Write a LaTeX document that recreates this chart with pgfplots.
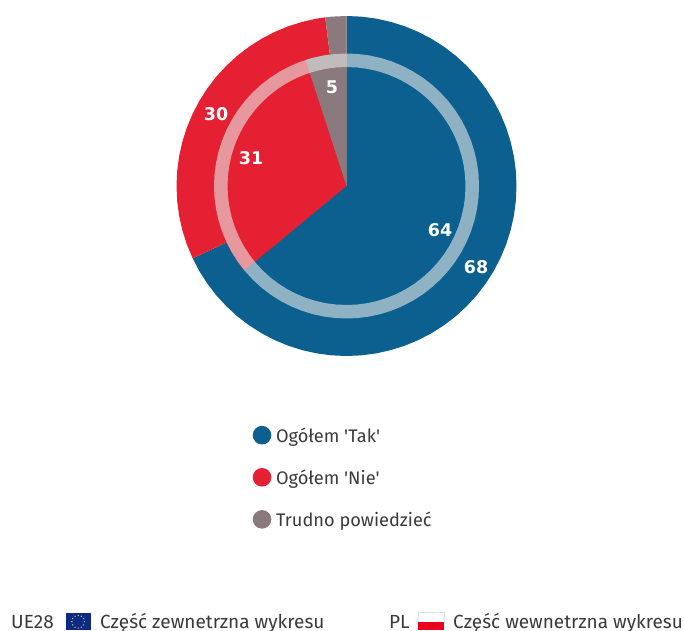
\documentclass[border=0pt]{standalone}
\usepackage{fontspec}
\newfontfamily\txtfont{Fira Sans}
\newfontfamily\labelfont{DejaVu Sans}
\usepackage{pgfplots}
\pgfplotsset{compat=1.18}
\usepgfplotslibrary{polar}

\definecolor{tak}{HTML}{0B6090}
\definecolor{nie}{HTML}{E62033}
\definecolor{trudno}{HTML}{8A797D}
\definecolor{txt}{HTML}{3A3A3A}
\definecolor{pasek}{HTML}{E9E9E9}
\definecolor{euflag}{HTML}{0C2A86}
\definecolor{euzolty}{HTML}{E8D44A}
\definecolor{plred}{HTML}{E8001C}

\newcommand{\val}[3]{\node[text=white,font=\labelfont\bfseries\fontsize{17.5}{20}\selectfont] at (axis cs:#1,#2) {#3};}
\newcommand{\stopka}[3]{\node[anchor=base west,inner sep=0pt,text=txt,font=\txtfont\fontsize{19}{22}\selectfont] at (axis cs:#1,#2) {#3};}

\begin{document}
\begin{tikzpicture}
\path[use as bounding box] (0,0) rectangle (684pt,630pt);
% 1 unit = 1 px of the reference, origin at the centre of the pie
\begin{axis}[
    scale only axis,
    width=684pt, height=630pt,
    xmin=-346.5, xmax=337.5,
    ymin=-444, ymax=186,
    hide axis,
    clip=false,
    data cs=polar,
    legend image code/.code={\fill[#1] (0pt,0pt) circle (9.3pt); \path (14pt,0pt);},
    legend cell align=left,
    legend style={draw=none, fill=none, at={(0.3695,0.324)}, anchor=north west,
        inner sep=0pt, outer sep=0pt, row sep=23.5pt,
        font=\txtfont\fontsize{18.2}{20}\selectfont, text=txt,
        nodes={inner sep=0pt, text depth=0pt}},
]
% outer ring, UE28: 68 / 30 / 2
\addplot[fill=tak, draw=none] coordinates {
    (0,0) (90,170) (85,170) (80,170) (75,170) (70,170) (65,170) (60,170) (55,170) (50,170) (45,170)
    (40,170) (35,170) (30,170) (25,170) (20,170) (15,170) (10,170) (5,170) (0,170)
    (-5,170) (-10,170) (-15,170) (-20,170) (-25,170) (-30,170) (-35,170) (-40,170) (-45,170)
    (-50,170) (-55,170) (-60,170) (-65,170) (-70,170) (-75,170) (-80,170) (-85,170) (-90,170)
    (-95,170) (-100,170) (-105,170) (-110,170) (-115,170) (-120,170) (-125,170) (-130,170) (-135,170)
    (-140,170) (-145,170) (-150,170) (-154.8,170) (0,0)
};
\addlegendentry{Ogółem 'Tak'}
\addplot[fill=nie, draw=none] coordinates {
    (0,0) (205.2,170) (200,170) (195,170) (190,170) (185,170) (180,170) (175,170) (170,170) (165,170)
    (160,170) (155,170) (150,170) (145,170) (140,170) (135,170) (130,170) (125,170) (120,170) (115,170)
    (110,170) (105,170) (100,170) (97.2,170) (0,0)
};
\addlegendentry{Ogółem 'Nie'}
\addplot[fill=trudno, draw=none] coordinates {
    (0,0) (97.2,170) (95,170) (90,170) (0,0)
};
\addlegendentry{Trudno powiedzieć}
% inner pie, PL: 64 / 31 / 5
\addplot[forget plot, fill=tak, draw=none] coordinates {
    (0,0) (90,132.5) (85,132.5) (80,132.5) (75,132.5) (70,132.5) (65,132.5) (60,132.5) (55,132.5) (50,132.5) (45,132.5)
    (40,132.5) (35,132.5) (30,132.5) (25,132.5) (20,132.5) (15,132.5) (10,132.5) (5,132.5) (0,132.5)
    (-5,132.5) (-10,132.5) (-15,132.5) (-20,132.5) (-25,132.5) (-30,132.5) (-35,132.5) (-40,132.5) (-45,132.5)
    (-50,132.5) (-55,132.5) (-60,132.5) (-65,132.5) (-70,132.5) (-75,132.5) (-80,132.5) (-85,132.5) (-90,132.5)
    (-95,132.5) (-100,132.5) (-105,132.5) (-110,132.5) (-115,132.5) (-120,132.5) (-125,132.5) (-130,132.5) (-135,132.5)
    (-140.4,132.5) (0,0)
};
\addplot[forget plot, fill=nie, draw=none] coordinates {
    (0,0) (219.6,132.5) (215,132.5) (210,132.5) (205,132.5) (200,132.5) (195,132.5) (190,132.5) (185,132.5) (180,132.5)
    (175,132.5) (170,132.5) (165,132.5) (160,132.5) (155,132.5) (150,132.5) (145,132.5) (140,132.5) (135,132.5)
    (130,132.5) (125,132.5) (120,132.5) (115,132.5) (110,132.5) (108,132.5) (0,0)
};
\addplot[forget plot, fill=trudno, draw=none] coordinates {
    (0,0) (108,132.5) (105,132.5) (100,132.5) (95,132.5) (90,132.5) (0,0)
};
% pale band over the edge of the inner pie
\addplot[forget plot, draw=pasek, opacity=0.594, line width=13.5pt] coordinates {
    (0,125.75) (5,125.75) (10,125.75) (15,125.75) (20,125.75) (25,125.75) (30,125.75) (35,125.75) (40,125.75) (45,125.75)
    (50,125.75) (55,125.75) (60,125.75) (65,125.75) (70,125.75) (75,125.75) (80,125.75) (85,125.75) (90,125.75)
    (95,125.75) (100,125.75) (105,125.75) (110,125.75) (115,125.75) (120,125.75) (125,125.75) (130,125.75) (135,125.75)
    (140,125.75) (145,125.75) (150,125.75) (155,125.75) (160,125.75) (165,125.75) (170,125.75) (175,125.75) (180,125.75)
    (185,125.75) (190,125.75) (195,125.75) (200,125.75) (205,125.75) (210,125.75) (215,125.75) (220,125.75) (225,125.75)
    (230,125.75) (235,125.75) (240,125.75) (245,125.75) (250,125.75) (255,125.75) (260,125.75) (265,125.75) (270,125.75)
    (275,125.75) (280,125.75) (285,125.75) (290,125.75) (295,125.75) (300,125.75) (305,125.75) (310,125.75) (315,125.75)
    (320,125.75) (325,125.75) (330,125.75) (335,125.75) (340,125.75) (345,125.75) (350,125.75) (355,125.75)
} -- cycle;

\val{129.5}{-81}{68}
\val{93.5}{-44}{64}
\val{-130.5}{72}{30}
\val{-95.5}{28}{31}
\val{-14.5}{99}{5}

% footer
\stopka{-335.5}{-442}{UE28}
\stopka{-246.5}{-442}{Część zewnetrzna wykresu}
\stopka{42.5}{-442}{PL}
\stopka{106.5}{-442}{Część wewnetrzna wykresu}
\fill[euflag] (axis cs:-280.8,-426.5) rectangle (axis cs:-255.8,-444);
\pgfplotsinvokeforeach{0,30,60,90,120,150,180,210,240,270,300,330}{
    \fill[euzolty] (axis cs:-268.3,-435.7) ++(#1:6.3pt) circle (0.7pt);
}
\fill[plred] (axis cs:71.5,-436) rectangle (axis cs:97.5,-444);
\draw[gray!25, line width=0.6pt] (axis cs:71.5,-436) -- (axis cs:71.5,-426.3) -- (axis cs:97.5,-426.3) -- (axis cs:97.5,-436);
\end{axis}
\end{tikzpicture}
\end{document}
